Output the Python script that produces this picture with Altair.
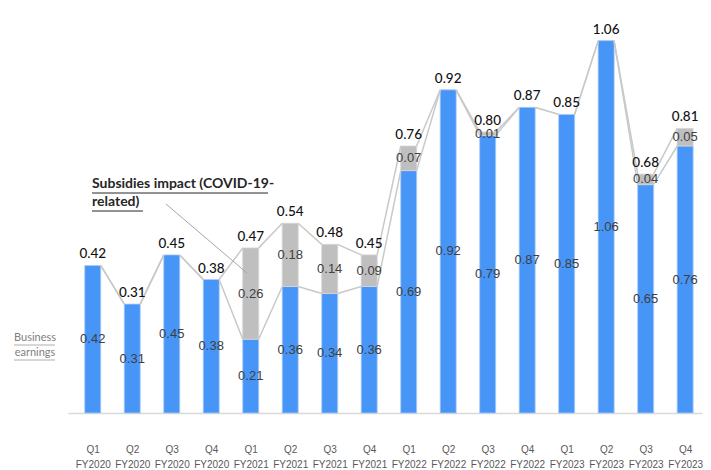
import altair as alt
import pandas as pd

quarters = ["Q1", "Q2", "Q3", "Q4"] * 4
years = ["FY2020"] * 4 + ["FY2021"] * 4 + ["FY2022"] * 4 + ["FY2023"] * 4
business = [0.42, 0.31, 0.45, 0.38, 0.21, 0.36, 0.34, 0.36, 0.69, 0.92, 0.79, 0.87, 0.85, 1.06, 0.65, 0.76]
subsidy = [0.00, 0.00, 0.00, 0.00, 0.26, 0.18, 0.14, 0.09, 0.07, 0.00, 0.01, 0.00, 0.00, 0.00, 0.04, 0.05]
total = [0.42, 0.31, 0.45, 0.38, 0.47, 0.54, 0.48, 0.45, 0.76, 0.92, 0.80, 0.87, 0.85, 1.06, 0.68, 0.81]

BLUE = "#4795F6"
GRAY = "#BFBFBF"
LINE = "#C9C9C9"
HW = 0.2  # half bar width in category units

n = len(business)
df = pd.DataFrame({"i": list(range(n)), "business": business, "subsidy": subsidy, "total": total})

seg_rows = []
for k in range(n - 1):
    for name, vals in (("business", business), ("total", total)):
        seg_rows.append({"x": k + HW, "x2": k + 1 - HW, "y": vals[k], "y2": vals[k + 1], "s": name})
segs = pd.DataFrame(seg_rows)

label_expr = "[" + ",".join(f"['{q}','{y}']" for q, y in zip(quarters, years)) + "][datum.value]"

xscale = alt.Scale(domain=[-0.5, 15.3], nice=False, zero=False)
yscale = alt.Scale(domain=[0, 1.15], nice=False)

x_axis = alt.Axis(values=list(range(n)), labelExpr=label_expr, grid=False, ticks=False,
                  domainColor="#D9D9D9", domainWidth=1.5, labelPadding=31, labelFontSize=10,
                  labelColor="#595959", labelLineHeight=15, labelFont="Liberation Sans",
                  labelBaseline="top", title=None)

base = alt.Chart(df)

blue_bars = base.mark_bar(size=16, color=BLUE, stroke="#A9CBF8", strokeWidth=0.8).encode(
    x=alt.X("i:Q", scale=xscale, axis=x_axis),
    y=alt.Y("business:Q", scale=yscale, axis=None),
)
gray_bars = base.transform_filter("datum.subsidy > 0").mark_bar(size=16, color=GRAY, stroke="#D5D5D5", strokeWidth=0.8).encode(
    x="i:Q", y="business:Q", y2="total:Q"
)

lines = alt.Chart(segs).mark_rule(color=LINE, strokeWidth=1.5).encode(
    x="x:Q", x2="x2:Q", y="y:Q", y2="y2:Q"
)

blue_text = base.transform_calculate(mid="datum.business/2").mark_text(
    fontSize=13, color="#404040", font="Liberation Sans", baseline="middle"
).encode(x="i:Q", y="mid:Q", text=alt.Text("business:Q", format=".2f"))

gray_text = base.transform_filter("datum.subsidy > 0").transform_calculate(
    mid="(datum.business + datum.total)/2"
).mark_text(fontSize=13, color="#404040", font="Liberation Sans", baseline="middle").encode(
    x="i:Q", y="mid:Q", text=alt.Text("subsidy:Q", format=".2f"))

total_text = base.mark_text(fontSize=13.5, color="#111111", font="Lato", fontWeight=500, baseline="middle", dy=-11).encode(
    x="i:Q", y="total:Q", text=alt.Text("total:Q", format=".2f"))

one = alt.Data(values=[{}])

def txt(s, x, y, size, color, bold=False, align="left"):
    return alt.Chart(one).mark_text(text=s, fontSize=size, color=color, font="Lato",
                                    fontWeight="bold" if bold else "normal", align=align,
                                    baseline="middle").encode(x=alt.value(x), y=alt.value(y))

def rule(x, x2, y, y2, color, w=1):
    return alt.Chart(one).mark_rule(color=color, strokeWidth=w).encode(
        x=alt.value(x), x2=alt.value(x2), y=alt.value(y), y2=alt.value(y2))

ann = [
    txt("Subsidies impact (COVID-19-", 24, 175, 14, "#262626", bold=True),
    txt("related)", 24, 193, 14, "#262626", bold=True),
    rule(24, 200, 184, 184, "#262626", 1),
    rule(24, 75, 202, 202, "#262626", 1),
    rule(98, 179, 195, 264, "#A6A6A6", 1),
    txt("Business", -33, 329, 11, "#7F7F7F", align="center"),
    txt("earnings", -33, 344, 11, "#7F7F7F", align="center"),
    rule(-54, -13, 336, 336, "#9A9A9A", 0.8),
    rule(-54, -13, 351, 351, "#9A9A9A", 0.8),
]

chart = alt.layer(blue_bars, gray_bars, lines, blue_text, gray_text, total_text, *ann).properties(
    width=634, height=404,
    padding={"left": 68, "top": 9, "right": 9, "bottom": 57},
    autosize=alt.AutoSizeParams(type="none"),
).configure(background="white").configure_view(stroke=None)

chart.save("out.html", embed_options={"renderer": "svg", "actions": False})
